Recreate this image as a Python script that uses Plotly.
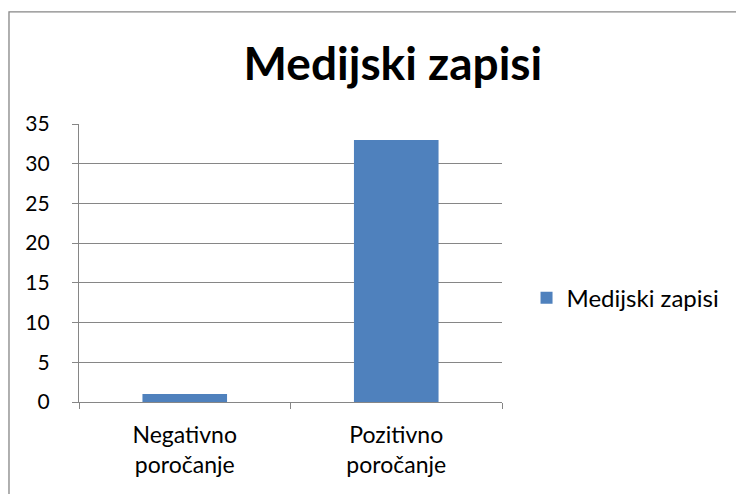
import plotly.graph_objects as go

categories = ['Negativno<br>poročanje', 'Pozitivno<br>poročanje']
values = [1, 33]
series_name = 'Medijski zapisi'
y_ticks = [0, 5, 10, 15, 20, 25, 30, 35]

font_family = 'Lato, Carlito, Calibri, sans-serif'
grid_color = '#868686'

fig = go.Figure()
fig.add_trace(go.Bar(
    x=categories, y=values, name=series_name,
    marker=dict(color='#4F81BD', line=dict(width=0)),
    showlegend=True
))

# outer chart frame (runs off the right and bottom edge in the original)
fig.add_shape(type='rect', xref='paper', yref='paper',
              x0=-0.1655, x1=1.8, y0=-0.4, y1=1.403,
              line=dict(color=grid_color, width=1.3), layer='below')

# page body adds an 8px margin, so the figure is 8px smaller than the window
fig.update_layout(
    width=736, height=486,
    margin=dict(l=71, r=242, t=116, b=92),
    paper_bgcolor='white', plot_bgcolor='white',
    font=dict(family=font_family, size=20, color='#000000'),
    title=dict(text='<b>Medijski zapisi</b>', x=0.523, xanchor='center',
               y=0.886, yanchor='middle', yref='container',
               font=dict(family=font_family, size=46, color='#000000')),
    bargap=0.6,
    showlegend=True,
    legend=dict(x=1.058, xanchor='left', y=0.374, yanchor='middle',
                font=dict(size=24), itemwidth=30, bgcolor='rgba(0,0,0,0)'),
    xaxis=dict(showgrid=False, showline=True, linecolor=grid_color, linewidth=1.3,
               ticks='outside', tickson='boundaries', ticklen=6, tickcolor=grid_color,
               tickwidth=1.3, tickfont=dict(size=23), ticklabelstandoff=12),
    yaxis=dict(range=[0, 35], tickvals=y_ticks, showgrid=True, gridcolor=grid_color,
               gridwidth=1.3, showline=True, linecolor=grid_color, linewidth=1.3,
               ticks='outside', ticklen=6, tickcolor=grid_color, tickwidth=1.3,
               tickfont=dict(size=21), ticklabelstandoff=18, zeroline=False),
)

fig.write_html('out.html')
